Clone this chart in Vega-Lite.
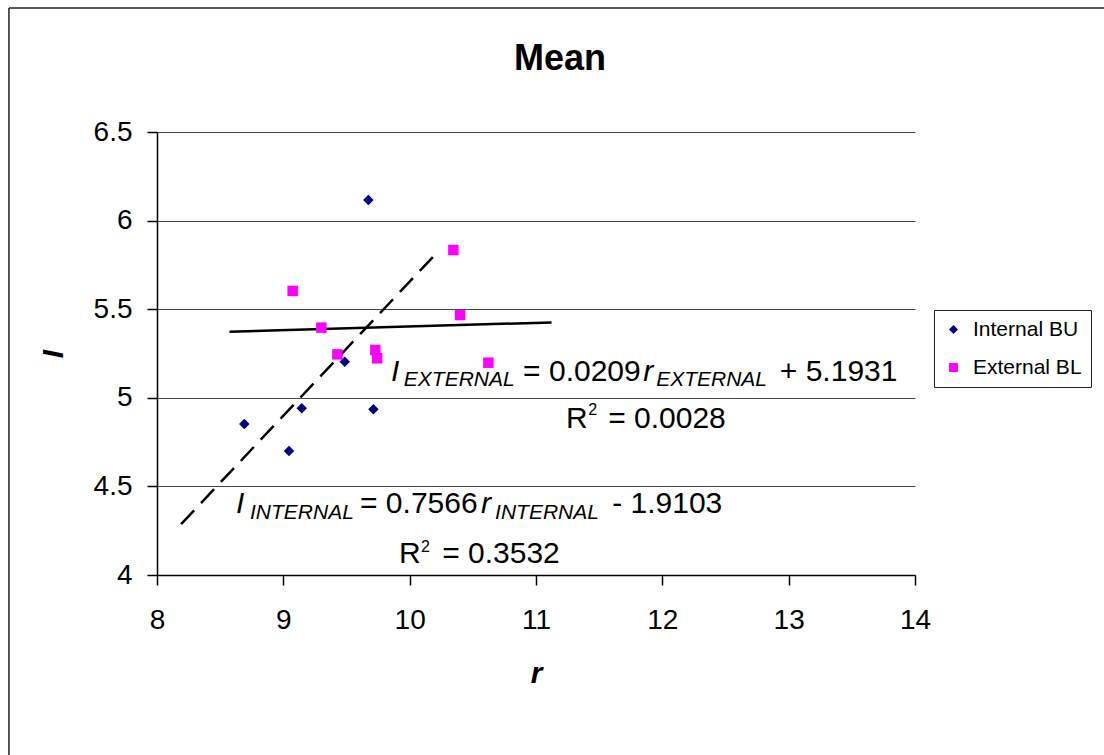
{
  "$schema": "https://vega.github.io/schema/vega-lite/v6.json",
  "autosize": {"type": "none"},
  "padding": {"left": 157, "top": 132, "right": 189, "bottom": 180},
  "width": 758,
  "height": 443,
  "background": "white",
  "config": {
    "font": "Liberation Sans",
    "view": {"stroke": null},
    "axis": {"labelColor": "black", "titleColor": "black", "domainColor": "black", "tickColor": "black"}
  },
  "title": {
    "text": "Mean",
    "fontSize": 36,
    "fontWeight": "bold",
    "font": "Liberation Sans",
    "color": "black",
    "anchor": "middle",
    "baseline": "alphabetic",
    "offset": -99,
    "dx": 24
  },
  "datasets": {
    "points": [
      {"series": "Internal BU", "r": 9.673, "I": 6.116},
      {"series": "Internal BU", "r": 9.486, "I": 5.204},
      {"series": "Internal BU", "r": 9.146, "I": 4.941},
      {"series": "Internal BU", "r": 9.713, "I": 4.935},
      {"series": "Internal BU", "r": 8.691, "I": 4.852},
      {"series": "Internal BU", "r": 9.045, "I": 4.700},
      {"series": "External BL", "r": 10.346, "I": 5.834},
      {"series": "External BL", "r": 9.074, "I": 5.603},
      {"series": "External BL", "r": 10.399, "I": 5.467},
      {"series": "External BL", "r": 9.301, "I": 5.396},
      {"series": "External BL", "r": 9.428, "I": 5.245},
      {"series": "External BL", "r": 9.728, "I": 5.270},
      {"series": "External BL", "r": 9.742, "I": 5.223},
      {"series": "External BL", "r": 10.623, "I": 5.198}
    ],
    "trendInternal": [
      {"r": 8.191, "I": 4.2870},
      {"r": 10.213, "I": 5.8169}
    ],
    "trendExternal": [
      {"r": 8.574, "I": 5.3723},
      {"r": 11.123, "I": 5.4256}
    ],
    "eqRegular": [
      {"x": 10.898, "y": 5.0948, "t": "= 0.0209"},
      {"x": 12.93, "y": 5.0948, "t": "+ 5.1931"},
      {"x": 11.238, "y": 4.8296, "t": "R"},
      {"x": 11.571, "y": 4.8296, "t": "= 0.0028"},
      {"x": 9.607, "y": 4.348, "t": "= 0.7566"},
      {"x": 11.603, "y": 4.348, "t": "- 1.9103"},
      {"x": 9.916, "y": 4.066, "t": "R"},
      {"x": 10.257, "y": 4.066, "t": "= 0.3532"}
    ],
    "eqItalic": [
      {"x": 9.853, "y": 5.0948, "t": "I"},
      {"x": 11.848, "y": 5.0948, "t": "r"},
      {"x": 8.6255, "y": 4.348, "t": "I"},
      {"x": 10.565, "y": 4.348, "t": "r"}
    ],
    "eqSub": [
      {"x": 9.954, "y": 5.0666, "t": "EXTERNAL"},
      {"x": 11.951, "y": 5.0666, "t": "EXTERNAL"},
      {"x": 8.736, "y": 4.316, "t": "INTERNAL"},
      {"x": 10.676, "y": 4.316, "t": "INTERNAL"}
    ],
    "eqSup": [
      {"x": 11.413, "y": 4.9029, "t": "2"},
      {"x": 10.090, "y": 4.128, "t": "2"}
    ],
    "frameTop": [{"x": 6.828, "x2": 15.5, "y": 7.2}],
    "frameLeft": [{"x": 6.828, "y": 7.2, "y2": 2.984}]
  },
  "layer": [
    {
      "data": {"name": "frameTop"},
      "mark": {"type": "rule", "color": "#222", "strokeWidth": 1.5, "clip": false},
      "encoding": {
        "x": {"field": "x", "type": "quantitative"},
        "x2": {"field": "x2"},
        "y": {"field": "y", "type": "quantitative"}
      }
    },
    {
      "data": {"name": "frameLeft"},
      "mark": {"type": "rule", "color": "#222", "strokeWidth": 1.5, "clip": false},
      "encoding": {
        "x": {"field": "x", "type": "quantitative"},
        "y": {"field": "y", "type": "quantitative"},
        "y2": {"field": "y2"}
      }
    },
    {
      "data": {"name": "trendInternal"},
      "mark": {"type": "line", "color": "black", "strokeWidth": 2.5, "strokeDash": [19, 10]},
      "encoding": {
        "x": {"field": "r", "type": "quantitative"},
        "y": {"field": "I", "type": "quantitative"}
      }
    },
    {
      "data": {"name": "trendExternal"},
      "mark": {"type": "line", "color": "black", "strokeWidth": 2.5},
      "encoding": {
        "x": {"field": "r", "type": "quantitative"},
        "y": {"field": "I", "type": "quantitative"}
      }
    },
    {
      "data": {"name": "points"},
      "mark": {"type": "point", "filled": true, "opacity": 1, "size": 110},
      "encoding": {
        "x": {
          "field": "r", "type": "quantitative",
          "scale": {"domain": [8, 14], "nice": false, "zero": false},
          "axis": {
            "values": [8, 9, 10, 11, 12, 13, 14],
            "format": "d",
            "title": "r",
            "titleFont": "Liberation Sans",
            "titleFontSize": 30,
            "titleFontWeight": "bold",
            "titleFontStyle": "italic",
            "titlePadding": 24,
            "labelFontSize": 28,
            "labelFont": "Liberation Sans",
            "labelPadding": 21,
            "tickSize": 10,
            "tickWidth": 1.5,
            "domainWidth": 1.5,
            "grid": false,
            "labelFlush": false
          }
        },
        "y": {
          "field": "I", "type": "quantitative",
          "scale": {"domain": [4, 6.5], "nice": false, "zero": false},
          "axis": {
            "values": [4, 4.5, 5, 5.5, 6, 6.5],
            "format": "~g",
            "title": "I",
            "titleFont": "Liberation Sans",
            "titleFontSize": 30,
            "titleFontWeight": "bold",
            "titleFontStyle": "italic",
            "titlePadding": 25,
            "labelFontSize": 28,
            "labelFont": "Liberation Sans",
            "labelPadding": 15,
            "tickSize": 10,
            "tickWidth": 1.5,
            "domainWidth": 1.5,
            "grid": true,
            "gridColor": "#444",
            "gridWidth": 1,
            "labelFlush": false
          }
        },
        "color": {
          "field": "series", "type": "nominal",
          "scale": {"domain": ["Internal BU", "External BL"], "range": ["#000080", "#FF00FF"]},
          "legend": {
            "title": null,
            "orient": "none",
            "legendX": 777,
            "legendY": 178,
            "strokeColor": "#222",
            "fillColor": "white",
            "padding": 9,
            "labelFontSize": 21,
            "labelFont": "Liberation Sans",
            "labelColor": "black",
            "symbolSize": 80,
            "symbolOffset": 0,
            "labelOffset": 9,
            "rowPadding": 16
          }
        },
        "shape": {
          "field": "series", "type": "nominal",
          "scale": {"domain": ["Internal BU", "External BL"], "range": ["diamond", "square"]}
        }
      }
    },
    {
      "data": {"name": "eqRegular"},
      "mark": {"type": "text", "align": "left", "baseline": "alphabetic", "fontSize": 30, "font": "Liberation Sans", "color": "black"},
      "encoding": {
        "x": {"field": "x", "type": "quantitative"},
        "y": {"field": "y", "type": "quantitative"},
        "text": {"field": "t"}
      }
    },
    {
      "data": {"name": "eqItalic"},
      "mark": {"type": "text", "align": "left", "baseline": "alphabetic", "fontSize": 30, "fontStyle": "italic", "font": "Liberation Sans", "color": "black"},
      "encoding": {
        "x": {"field": "x", "type": "quantitative"},
        "y": {"field": "y", "type": "quantitative"},
        "text": {"field": "t"}
      }
    },
    {
      "data": {"name": "eqSub"},
      "mark": {"type": "text", "align": "left", "baseline": "alphabetic", "fontSize": 21, "fontStyle": "italic", "font": "Liberation Sans", "color": "black"},
      "encoding": {
        "x": {"field": "x", "type": "quantitative"},
        "y": {"field": "y", "type": "quantitative"},
        "text": {"field": "t"}
      }
    },
    {
      "data": {"name": "eqSup"},
      "mark": {"type": "text", "align": "left", "baseline": "alphabetic", "fontSize": 16, "font": "Liberation Sans", "color": "black"},
      "encoding": {
        "x": {"field": "x", "type": "quantitative"},
        "y": {"field": "y", "type": "quantitative"},
        "text": {"field": "t"}
      }
    }
  ]
}
